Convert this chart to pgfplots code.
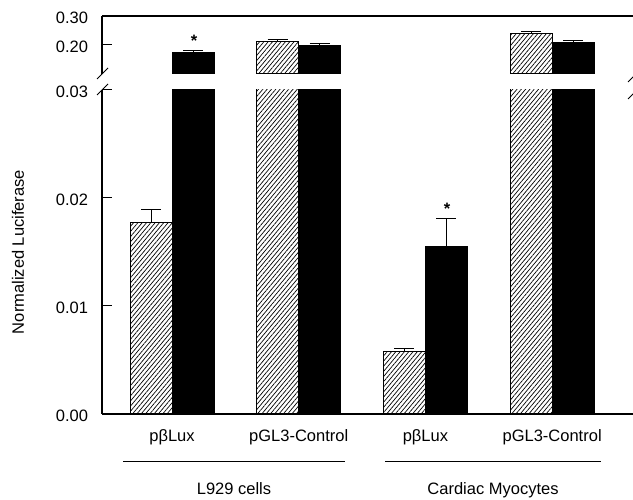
\documentclass[border=0pt]{standalone}
\usepackage{pgfplots}
\pgfplotsset{compat=1.18}
\usepackage{pgfplotstable}
\usetikzlibrary{patterns.meta}
\usepackage{fontspec}
\setmainfont{Liberation Sans}
\newcommand{\ff}{\fontsize{16.5}{19}\selectfont}

% x = category index -/+ half a bar width
\pgfplotstableread{
x y e
-0.1657 0.0177 0.0012
0.8343 0.211 0.0085
1.8343 0.00577 0.0003
2.8343 0.238 0.008
}\hatched
\pgfplotstableread{
x y e
0.1657 0.173 0.0093
1.1657 0.1966 0.0093
2.1657 0.0155 0.0026
3.1657 0.2103 0.0045
}\solid

\pgfplotsset{
  brk/.style={
    scale only axis, width=531pt,
    xmin=-0.5525, xmax=3.638,
    axis y line*=left,
    tick align=inside,
    major tick length=10pt,
    every tick/.style={black, line width=1pt},
    axis line style={line width=1.1pt},
    scaled y ticks=false,
    yticklabel style={font=\ff, xshift=-10.5pt, yshift=-2pt},
    xticklabel style={font=\ff},
  },
  hbar/.style={ybar, bar width=0.3315, bar shift=0, draw=black, line width=1pt,
    pattern={Lines[angle=50,distance=3.3pt,line width=0.7pt]}, pattern color=black},
  bbar/.style={ybar, bar width=0.3315, bar shift=0, draw=black, fill=black, line width=1pt},
  errs/.style={draw=none, mark=none, forget plot,
    error bars/y dir=plus, error bars/y explicit,
    error bars/error bar style={line width=1pt, draw=black, solid},
    error bars/error mark options={rotate=90, line width=1pt, mark size=10pt, draw=black}},
}

\begin{document}
\begin{tikzpicture}
\useasboundingbox (0,0) rectangle (633pt,500pt);
% upper part
\begin{axis}[brk, at={(102pt,426pt)}, anchor=south west, height=58pt,
  ymin=0.1, ymax=0.3, ytick={0.2,0.3}, yticklabels={0.20,0.30},
  axis x line*=top, xtick=\empty]
\addplot[hbar, restrict y to domain=0.1:1] table[x=x, y=y] {\hatched};
\addplot[bbar, restrict y to domain=0.1:1] table[x=x, y=y] {\solid};
\addplot[errs, restrict y to domain=0.1:1] table[x=x, y=y, y error=e] {\hatched};
\addplot[errs, restrict y to domain=0.1:1] table[x=x, y=y, y error=e] {\solid};
\node[font=\ff\bfseries, anchor=base] at (axis cs:0.174,0.1945) {*};
\end{axis}
% lower part
\begin{axis}[brk, at={(102pt,86pt)}, anchor=south west, height=324pt,
  ymin=0, ymax=0.03, ytick={0,0.01,0.02,0.03}, yticklabels={0.00,0.01,0.02,0.03},
  axis x line*=bottom, xtick={0,1,2,3},
  xticklabels={pβLux,pGL3-Control,pβLux,pGL3-Control},
  xtick style={draw=none}, xticklabel style={yshift=-12pt},
  ylabel={Normalized Luciferase},
  ylabel style={font=\ff, at={(axis description cs:-0.158,0.5)}, anchor=center}]
\addplot[hbar] table[x=x, y=y] {\hatched};
\addplot[bbar] table[x=x, y=y] {\solid};
\addplot[errs] table[x=x, y=y, y error=e] {\hatched};
\addplot[errs] table[x=x, y=y, y error=e] {\solid};
\node[font=\ff\bfseries, anchor=base] at (axis cs:2.17,0.01846) {*};
\end{axis}
% axis breaks
\draw[line width=0.8pt] (97pt,421pt) -- (108pt,432pt);
\draw[line width=0.8pt] (97pt,405pt) -- (108pt,416pt);
\draw[line width=0.8pt] (628pt,418pt) -- (638pt,428pt);
\draw[line width=0.8pt] (628pt,401pt) -- (638pt,411pt);
% group brackets
\draw[line width=1pt] (123pt,38pt) -- (345pt,38pt);
\draw[line width=1pt] (385pt,38pt) -- (601pt,38pt);
\node[font=\ff, anchor=base] at (234pt,5pt) {L929 cells};
\node[font=\ff, anchor=base] at (493pt,5pt) {Cardiac Myocytes};
\end{tikzpicture}
\end{document}
